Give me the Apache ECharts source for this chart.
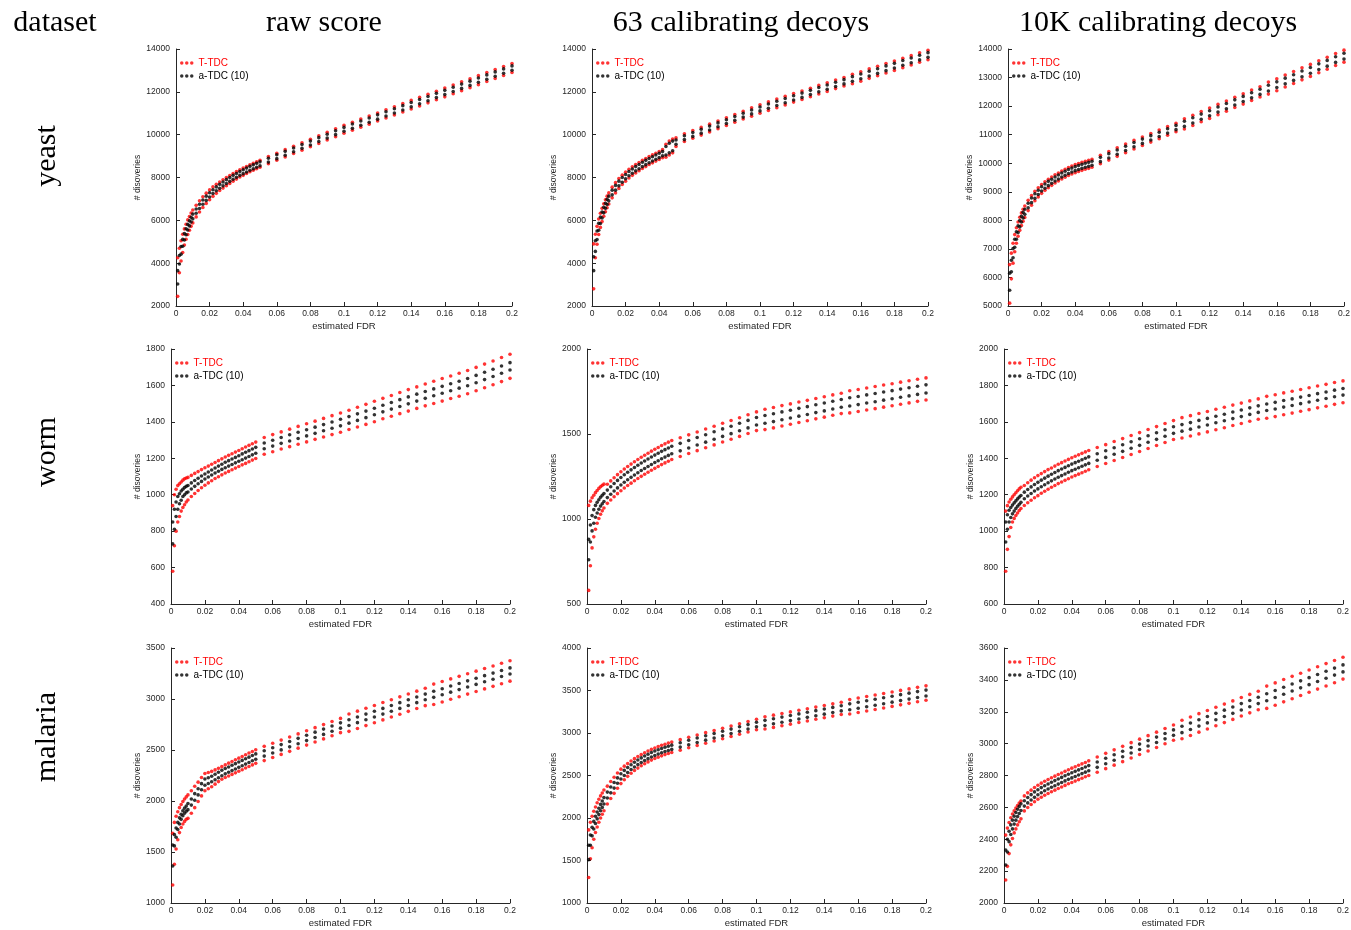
<!DOCTYPE html>
<html>
<head>
<meta charset="utf-8">
<script src="https://cdn.jsdelivr.net/npm/echarts@6/dist/echarts.min.js"></script>
<style>
html,body{margin:0;padding:0;background:#fff;}
#chart{width:1351px;height:930px;}
</style>
</head>
<body>
<div id="chart"></div>
<script>
// ---------- DATA ----------
const fdr = [0.001,0.002,0.003,0.004,0.005,0.006,0.007,0.008,0.009,0.010,
  0.012,0.014,0.016,0.018,0.020,0.022,0.024,0.026,0.028,0.030,0.032,0.034,0.036,0.038,0.040,0.042,0.044,0.046,0.048,0.050,
  0.055,0.060,0.065,0.070,0.075,0.080,0.085,0.090,0.095,0.100,0.105,0.110,0.115,0.120,0.125,0.130,0.135,0.140,0.145,0.150,
  0.155,0.160,0.165,0.170,0.175,0.180,0.185,0.190,0.195,0.200];

const columnTitles = ['raw score', '63 calibrating decoys', '10K calibrating decoys'];
const rowTitles = ['yeast', 'worm', 'malaria'];
const seriesNames = ['T-TDC', 'a-TDC (10)'];
const xTicks = [0, 0.2, 0.02];
// [min, max, interval] of each y axis, row by row
const yTicks = [[2000,14000,2000],[2000,14000,2000],[5000,14000,1000],
                [400,1800,200],[500,2000,500],[600,2000,200],
                [1000,3500,500],[1000,4000,500],[2000,3600,200]];

// yeast, raw score
const yeastRawTHi = [4250,4700,5050,5350,5600,5820,6020,6180,6340,6480, 6700,6910,7100,7270,7420,7560,7680,7790,7895,8000,8095,8190,8275,8360,8440,8515,8595,8660,8730,8800, 8975,9135,9300,9460,9625,9785,9950,10110,10275,10435,10580,10730,10870,11015,11165,11305,11450,11600,11740,11885,12030,12175,12320,12465,12605,12755,12900,13040,13180,13320];
const yeastRawTLo = [2450,3550,4100,4500,4850,5120,5340,5540,5720,5880, 6160,6390,6600,6790,6960,7120,7260,7390,7505,7620,7725,7830,7925,8020,8100,8185,8265,8340,8410,8480, 8645,8805,8960,9120,9275,9435,9590,9750,9905,10065,10210,10350,10490,10635,10775,10915,11060,11200,11340,11485,11630,11765,11910,12055,12195,12335,12480,12620,12760,12900];
const yeastRawAHi = [3650,4360,4780,5110,5380,5610,5810,5980,6140,6290, 6530,6750,6950,7130,7290,7430,7560,7680,7790,7900,8000,8100,8190,8280,8360,8440,8520,8590,8660,8730, 8900,9060,9220,9380,9540,9700,9860,10020,10180,10340,10495,10640,10780,10925,11070,11210,11355,11500,11640,11785,11930,12070,12215,12360,12500,12645,12790,12930,13070,13210];
const yeastRawALo = [3030,3960,4420,4790,5080,5330,5550,5740,5920,6070, 6330,6550,6750,6930,7090,7250,7380,7500,7610,7720,7820,7920,8010,8100,8180,8260,8340,8410,8480,8550, 8720,8880,9040,9200,9360,9520,9680,9840,10000,10160,10295,10440,10580,10725,10870,11010,11155,11300,11440,11585,11730,11870,12015,12160,12300,12445,12590,12730,12870,13010];

// yeast, 63 calibrating decoys
const yeast63THi = [4900,5350,5720,6060,6330,6560,6770,6960,7130,7280, 7550,7760,7950,8110,8250,8380,8500,8605,8700,8800,8890,8975,9055,9135,9215,9300,9550,9700,9800,9850, 10040,10190,10340,10490,10640,10790,10940,11090,11260,11400,11530,11660,11790,11920,12040,12170,12300,12420,12550,12670,12820,12940,13070,13190,13320,13440,13570,13690,13820,13940];
const yeast63TLo = [2800,4250,4880,5340,5670,5940,6190,6400,6590,6760, 7050,7280,7490,7670,7830,7980,8100,8215,8320,8420,8510,8605,8685,8765,8845,8920,8950,9050,9150,9450, 9680,9830,9980,10130,10280,10430,10580,10730,10860,11000,11130,11260,11390,11520,11640,11770,11900,12020,12150,12270,12380,12500,12630,12750,12880,13000,13130,13250,13380,13500];
const yeast63AHi = [4300,5050,5500,5860,6150,6390,6610,6800,6980,7130, 7410,7630,7830,8000,8140,8280,8400,8510,8610,8710,8800,8890,8970,9050,9130,9210,9450,9600,9700,9750, 9950,10100,10250,10400,10550,10700,10850,11000,11150,11290,11430,11560,11690,11820,11940,12070,12200,12320,12450,12570,12710,12830,12960,13080,13210,13330,13460,13580,13710,13830];
const yeast63ALo = [3650,4550,5100,5540,5850,6110,6350,6560,6740,6910, 7190,7410,7610,7780,7940,8080,8200,8310,8410,8510,8600,8690,8770,8850,8930,9010,9050,9150,9250,9550, 9770,9920,10070,10220,10370,10520,10670,10820,10970,11110,11230,11360,11490,11620,11740,11870,12000,12120,12250,12370,12490,12610,12740,12860,12990,13110,13240,13360,13490,13610];

// yeast, 10K calibrating decoys
const yeast10kTHi = [6450,6850,7200,7500,7740,7940,8110,8260,8390,8500, 8700,8870,9015,9140,9255,9350,9440,9515,9595,9660,9730,9790,9850,9900,9950,9990,10030,10070,10100,10140, 10280,10410,10540,10670,10800,10920,11040,11160,11280,11400,11560,11680,11810,11930,12060,12180,12310,12430,12560,12680,12840,12960,13090,13210,13340,13460,13590,13710,13840,13960];
const yeast10kTLo = [5100,5950,6500,6900,7200,7440,7650,7820,7970,8100, 8340,8530,8685,8820,8945,9050,9140,9225,9305,9380,9450,9510,9570,9620,9670,9710,9750,9790,9820,9860, 9980,10110,10240,10370,10500,10620,10740,10860,10980,11100,11200,11320,11450,11570,11700,11820,11950,12070,12200,12320,12420,12540,12670,12790,12920,13040,13170,13290,13420,13540];
const yeast10kAHi = [6150,6600,7010,7340,7600,7810,7990,8140,8280,8390, 8600,8780,8930,9055,9175,9275,9365,9440,9520,9590,9660,9720,9780,9830,9880,9920,9960,10000,10030,10070, 10205,10335,10465,10595,10725,10845,10965,11085,11205,11325,11470,11590,11720,11840,11970,12090,12220,12340,12470,12590,12730,12850,12980,13100,13230,13350,13480,13600,13730,13850];
const yeast10kALo = [5550,6200,6690,7060,7340,7570,7770,7940,8080,8210, 8440,8620,8770,8905,9025,9125,9215,9300,9380,9450,9520,9580,9640,9690,9740,9780,9820,9860,9890,9930, 10055,10185,10315,10445,10575,10695,10815,10935,11055,11175,11290,11410,11540,11660,11790,11910,12040,12160,12290,12410,12530,12650,12780,12900,13030,13150,13280,13400,13530,13650];

// worm, raw score
const wormRawTHi = [940,1000,1030,1050,1060,1070,1080,1088,1092,1095, 1106,1117,1127,1138,1148,1157,1167,1177,1187,1197,1207,1216,1225,1234,1243,1252,1262,1271,1280,1289, 1314,1330,1345,1360,1375,1390,1404,1419,1434,1449,1464,1480,1496,1513,1529,1545,1561,1577,1592,1608,1623,1638,1652,1667,1682,1699,1717,1734,1753,1771];
const wormRawTLo = [580,720,800,850,880,910,930,945,960,971, 990,1007,1023,1038,1052,1065,1077,1089,1099,1109,1119,1128,1137,1146,1155,1164,1172,1181,1190,1199, 1222,1236,1251,1264,1277,1290,1304,1317,1330,1343,1358,1372,1386,1401,1417,1431,1445,1459,1474,1488,1501,1514,1528,1541,1554,1571,1587,1604,1621,1639];
const wormRawAHi = [850,920,960,990,1005,1020,1030,1040,1046,1051, 1065,1078,1090,1103,1114,1125,1136,1147,1157,1167,1178,1187,1196,1205,1214,1224,1233,1242,1251,1260, 1284,1299,1314,1329,1343,1357,1371,1385,1399,1414,1429,1444,1459,1475,1491,1506,1522,1537,1552,1567,1581,1595,1609,1623,1638,1655,1672,1689,1707,1725];
const wormRawALo = [730,810,880,920,950,970,990,1000,1010,1015, 1031,1046,1060,1073,1086,1097,1108,1119,1129,1139,1148,1157,1166,1175,1184,1192,1201,1210,1219,1228, 1252,1267,1282,1295,1309,1323,1337,1351,1365,1378,1393,1408,1423,1439,1455,1470,1484,1499,1514,1529,1543,1557,1571,1585,1598,1615,1632,1649,1667,1685];

// worm, 63 calibrating decoys
const worm63THi = [1080,1105,1125,1140,1155,1168,1180,1190,1198,1205, 1204,1224,1243,1261,1278,1294,1309,1323,1337,1350,1363,1375,1387,1399,1410,1421,1432,1442,1452,1462, 1478,1495,1512,1529,1546,1563,1579,1596,1613,1630,1646,1656,1667,1677,1688,1698,1709,1719,1730,1740,1754,1762,1771,1779,1788,1796,1805,1813,1822,1830];
const worm63TLo = [580,725,830,895,940,975,1003,1028,1048,1065, 1092,1112,1131,1149,1166,1182,1197,1211,1225,1238,1251,1263,1275,1287,1298,1309,1320,1330,1340,1350, 1368,1385,1402,1419,1436,1453,1469,1486,1503,1520,1526,1536,1547,1557,1568,1578,1589,1599,1610,1620,1624,1632,1641,1649,1658,1666,1675,1683,1692,1700];
const worm63AHi = [880,965,1020,1055,1080,1098,1113,1128,1140,1150, 1170,1190,1209,1227,1244,1260,1275,1289,1303,1316,1329,1341,1353,1365,1376,1387,1398,1408,1418,1428, 1445,1462,1479,1496,1513,1530,1546,1563,1580,1597,1609,1619,1630,1640,1651,1661,1672,1682,1693,1703,1713,1721,1730,1738,1747,1755,1764,1772,1781,1789];
const worm63ALo = [760,865,930,975,1010,1035,1057,1076,1090,1103, 1126,1146,1165,1183,1200,1216,1231,1245,1259,1272,1285,1297,1309,1321,1332,1343,1354,1364,1374,1384, 1401,1418,1435,1452,1469,1486,1502,1519,1536,1553,1563,1573,1584,1594,1605,1615,1626,1636,1647,1657,1665,1673,1682,1690,1699,1707,1716,1724,1733,1741];

// worm, 10K calibrating decoys
const worm10kTHi = [1110,1140,1160,1175,1188,1200,1211,1222,1232,1241, 1251,1266,1280,1293,1305,1316,1327,1338,1347,1357,1367,1376,1385,1394,1403,1411,1419,1427,1435,1443, 1459,1475,1492,1508,1525,1541,1558,1574,1591,1607,1623,1634,1646,1657,1669,1680,1692,1703,1715,1726,1740,1749,1759,1768,1778,1787,1797,1806,1816,1825];
const worm10kTLo = [780,900,970,1020,1050,1070,1086,1100,1113,1124, 1141,1156,1170,1183,1195,1208,1219,1230,1241,1251,1261,1270,1279,1288,1297,1305,1313,1321,1329,1337, 1355,1371,1388,1404,1421,1437,1454,1470,1487,1503,1511,1522,1534,1545,1557,1568,1580,1591,1603,1614,1620,1629,1639,1648,1658,1667,1677,1686,1696,1705];
const worm10kAHi = [1050,1090,1115,1130,1143,1155,1166,1177,1187,1196, 1214,1229,1243,1256,1268,1280,1291,1302,1312,1322,1332,1341,1350,1359,1368,1376,1384,1392,1400,1408, 1425,1441,1458,1474,1491,1507,1524,1540,1557,1573,1585,1596,1608,1619,1631,1642,1654,1665,1677,1688,1698,1707,1717,1726,1736,1745,1755,1764,1774,1783];
const worm10kALo = [940,1010,1050,1075,1095,1110,1124,1137,1148,1158, 1178,1193,1207,1220,1232,1244,1255,1266,1276,1286,1296,1305,1314,1323,1332,1340,1348,1356,1364,1372, 1389,1405,1422,1438,1455,1471,1488,1504,1521,1537,1549,1560,1572,1583,1595,1606,1618,1629,1641,1652,1662,1671,1681,1690,1700,1709,1719,1728,1738,1747];

// malaria, raw score
const malariaRawTHi = [1683,1790,1850,1895,1935,1965,1995,2020,2040,2060, 2100,2145,2185,2230,2270,2280,2290,2305,2320,2337,2354,2371,2387,2404,2420,2437,2453,2470,2486,2503, 2536,2566,2597,2627,2658,2688,2719,2749,2780,2810,2853,2881,2909,2937,2965,2993,3021,3049,3077,3105,3146,3171,3197,3222,3248,3273,3299,3324,3350,3375];
const malariaRawTLo = [1176,1380,1530,1620,1690,1740,1775,1800,1820,1830, 1880,1935,1995,2050,2100,2120,2140,2165,2190,2213,2230,2245,2261,2276,2292,2307,2323,2338,2354,2369, 2396,2426,2457,2487,2518,2548,2579,2609,2640,2670,2683,2711,2739,2767,2795,2823,2851,2879,2907,2935,2946,2971,2997,3022,3048,3073,3099,3124,3150,3175];
const malariaRawAHi = [1569,1670,1735,1790,1835,1870,1905,1930,1950,1975, 2020,2072,2120,2170,2215,2228,2242,2262,2282,2302,2318,2334,2350,2366,2382,2398,2414,2430,2446,2462, 2492,2522,2553,2583,2614,2644,2675,2705,2736,2766,2796,2824,2852,2880,2908,2936,2964,2992,3020,3048,3076,3101,3127,3152,3178,3203,3229,3254,3280,3305];
const malariaRawALo = [1363,1560,1645,1720,1775,1820,1855,1880,1900,1915, 1960,2008,2060,2110,2155,2172,2188,2208,2228,2248,2266,2282,2298,2314,2330,2346,2362,2378,2394,2410, 2440,2470,2501,2531,2562,2592,2623,2653,2684,2714,2740,2768,2796,2824,2852,2880,2908,2936,2964,2992,3016,3041,3067,3092,3118,3143,3169,3194,3220,3245];

// malaria, 63 calibrating decoys
const malaria63THi = [1860,1950,2020,2080,2130,2180,2220,2260,2295,2330, 2375,2430,2480,2530,2575,2610,2640,2670,2698,2723,2746,2768,2788,2807,2824,2840,2855,2868,2881,2893, 2922,2950,2977,3004,3030,3056,3082,3109,3135,3162,3191,3210,3229,3248,3267,3286,3305,3324,3343,3362,3393,3411,3429,3447,3465,3483,3501,3519,3537,3555];
const malaria63TLo = [1300,1520,1650,1750,1830,1895,1950,2000,2045,2085, 2165,2230,2290,2350,2405,2450,2490,2526,2558,2587,2614,2638,2660,2681,2700,2716,2731,2746,2759,2771, 2798,2826,2853,2880,2906,2932,2958,2985,3011,3038,3047,3066,3085,3104,3123,3142,3161,3180,3199,3218,3223,3241,3259,3277,3295,3313,3331,3349,3367,3385];
const malaria63AHi = [1680,1800,1890,1960,2020,2070,2115,2160,2200,2240, 2305,2364,2418,2472,2521,2560,2594,2626,2656,2682,2707,2729,2750,2770,2788,2803,2818,2832,2845,2857, 2886,2914,2941,2968,2994,3020,3046,3073,3099,3126,3149,3168,3187,3206,3225,3244,3263,3282,3301,3320,3343,3361,3379,3397,3415,3433,3451,3469,3487,3505];
const malaria63ALo = [1510,1680,1790,1870,1935,1990,2040,2085,2125,2165, 2235,2296,2352,2408,2459,2500,2536,2570,2600,2628,2653,2677,2698,2718,2736,2753,2768,2782,2795,2807, 2834,2862,2889,2916,2942,2968,2994,3021,3047,3074,3089,3108,3127,3146,3165,3184,3203,3222,3241,3260,3273,3291,3309,3327,3345,3363,3381,3399,3417,3435];

// malaria, 10K calibrating decoys
const malaria10kTHi = [2426,2470,2505,2535,2558,2578,2596,2612,2627,2640, 2672,2691,2708,2725,2739,2752,2764,2775,2786,2796,2806,2816,2826,2836,2846,2855,2864,2873,2882,2892, 2916,2939,2961,2983,3006,3028,3050,3072,3095,3117,3147,3167,3188,3208,3228,3248,3268,3289,3309,3329,3361,3381,3402,3422,3442,3462,3482,3502,3522,3542];
const malaria10kTLo = [2144,2230,2310,2365,2405,2440,2465,2490,2510,2528, 2578,2599,2618,2635,2651,2664,2676,2687,2698,2708,2718,2728,2738,2748,2756,2765,2774,2783,2792,2800, 2820,2843,2865,2887,2910,2932,2954,2976,2999,3021,3031,3051,3072,3092,3112,3132,3152,3173,3193,3213,3221,3241,3262,3282,3302,3322,3342,3362,3382,3405];
const malaria10kAHi = [2332,2400,2450,2490,2520,2545,2568,2588,2606,2622, 2642,2662,2680,2697,2711,2724,2736,2747,2758,2768,2778,2788,2798,2808,2817,2826,2835,2844,2853,2862, 2885,2908,2930,2952,2975,2997,3019,3041,3064,3086,3109,3129,3150,3170,3190,3210,3230,3251,3271,3291,3313,3333,3354,3374,3394,3414,3434,3454,3474,3494];
const malaria10kALo = [2238,2320,2385,2430,2465,2495,2520,2542,2562,2580, 2608,2628,2646,2663,2679,2692,2704,2715,2726,2736,2746,2756,2766,2776,2785,2794,2803,2812,2821,2830, 2851,2874,2896,2918,2941,2963,2985,3007,3030,3052,3069,3089,3110,3130,3150,3170,3190,3211,3231,3251,3269,3289,3310,3330,3350,3370,3390,3410,3430,3450];

// ---------- CHART ----------
const panelData = [
  [yeastRawTHi, yeastRawTLo, yeastRawAHi, yeastRawALo],
  [yeast63THi, yeast63TLo, yeast63AHi, yeast63ALo],
  [yeast10kTHi, yeast10kTLo, yeast10kAHi, yeast10kALo],
  [wormRawTHi, wormRawTLo, wormRawAHi, wormRawALo],
  [worm63THi, worm63TLo, worm63AHi, worm63ALo],
  [worm10kTHi, worm10kTLo, worm10kAHi, worm10kALo],
  [malariaRawTHi, malariaRawTLo, malariaRawAHi, malariaRawALo],
  [malaria63THi, malaria63TLo, malaria63AHi, malaria63ALo],
  [malaria10kTHi, malaria10kTLo, malaria10kAHi, malaria10kALo]
];

const gridLefts = [[176,592,1008],[171,587,1004],[171,587,1004]];
const gridWidths = [336, 339, 339];
const gridTops = [49, 349, 648];
const gridHeights = [257, 255, 255];

const AX = '#262626';
const SANS = '"Liberation Sans", Arial, Helvetica, sans-serif';
const SERIF = '"Liberation Serif", "Times New Roman", serif';
const dots = 'path://M0,1.75A1.75,1.75,0,1,1,3.5,1.75A1.75,1.75,0,1,1,0,1.75ZM5,1.75A1.75,1.75,0,1,1,8.5,1.75A1.75,1.75,0,1,1,5,1.75ZM10,1.75A1.75,1.75,0,1,1,13.5,1.75A1.75,1.75,0,1,1,10,1.75Z';

function pairs(hi, lo) {
  const out = [];
  fdr.forEach((x, i) => { out.push([x, hi[i]]); out.push([x, lo[i]]); });
  return out;
}

const grid = [], xAxis = [], yAxis = [], series = [], legend = [];
for (let r = 0; r < 3; r++) {
  for (let c = 0; c < 3; c++) {
    const k = r * 3 + c;
    const left = gridLefts[r][c];
    grid.push({left: left, top: gridTops[r], width: gridWidths[r], height: gridHeights[r], containLabel: false, outerBoundsMode: 'none'});
    xAxis.push({
      type: 'value', gridIndex: k, min: xTicks[0], max: xTicks[1], interval: xTicks[2],
      axisLine: {show: true, onZero: false, lineStyle: {color: AX, width: 1}},
      axisTick: {show: true, inside: true, length: 4, lineStyle: {color: AX}},
      axisLabel: {show: true, fontSize: 8.5, color: AX, fontFamily: SANS, margin: 3,
        formatter: v => String(+v.toFixed(3))},
      splitLine: {show: false},
      name: 'estimated FDR', nameLocation: 'middle', nameGap: 15,
      nameTextStyle: {fontSize: 9.5, color: AX, fontFamily: SANS}
    });
    const yt = yTicks[k];
    yAxis.push({
      type: 'value', gridIndex: k, min: yt[0], max: yt[1], interval: yt[2],
      axisLine: {show: true, onZero: false, lineStyle: {color: AX, width: 1}},
      axisTick: {show: true, inside: true, length: 4, lineStyle: {color: AX}},
      axisLabel: {show: true, fontSize: 8.5, color: AX, fontFamily: SANS, margin: 6,
        formatter: v => String(v)},
      splitLine: {show: false},
      name: '# disoveries', nameLocation: 'middle', nameGap: (r === 0 ? 27 : 22), nameRotate: 90,
      nameTextStyle: {fontSize: 8.5, color: AX, fontFamily: SANS}
    });
    const d = panelData[k];
    series.push({
      type: 'scatter', name: seriesNames[0], xAxisIndex: k, yAxisIndex: k,
      data: pairs(d[0], d[1]), symbol: 'circle', symbolSize: 3.6,
      itemStyle: {color: '#ff0000'}, silent: true
    });
    series.push({
      type: 'scatter', name: seriesNames[1], xAxisIndex: k, yAxisIndex: k,
      data: pairs(d[2], d[3]), symbol: 'circle', symbolSize: 3.6,
      itemStyle: {color: '#000000'}, silent: true
    });
    legend.push({
      left: left + 4, top: gridTops[r] + 8, orient: 'vertical',
      itemWidth: 13.5, itemHeight: 3.5, itemGap: 1, selectedMode: false,
      icon: dots, padding: 0,
      textStyle: {fontSize: 10, fontFamily: SANS, lineHeight: 12},
      data: [
        {name: seriesNames[0], textStyle: {color: '#ff0000'}},
        {name: seriesNames[1], textStyle: {color: '#000000'}}
      ]
    });
  }
}

const titleFont = '30px ' + SERIF;
function label(text, x, y, rot) {
  return {type: 'text', x: x, y: y, rotation: rot || 0,
    style: {text: text, font: titleFont, fill: '#000', textAlign: 'center', textVerticalAlign: 'middle'}};
}
const graphic = [
  label('dataset', 55, 23),
  label(columnTitles[0], 324, 23),
  label(columnTitles[1], 741, 23),
  label(columnTitles[2], 1158, 23),
  label(rowTitles[0], 47, 156, Math.PI / 2),
  label(rowTitles[1], 47, 452, Math.PI / 2),
  label(rowTitles[2], 47, 737, Math.PI / 2)
];

const chart = echarts.init(document.getElementById('chart'), null, {renderer: 'canvas'});
chart.setOption({
  backgroundColor: '#ffffff',
  animation: false,
  grid: grid, xAxis: xAxis, yAxis: yAxis, series: series, legend: legend, graphic: graphic
});
</script>
</body>
</html>
